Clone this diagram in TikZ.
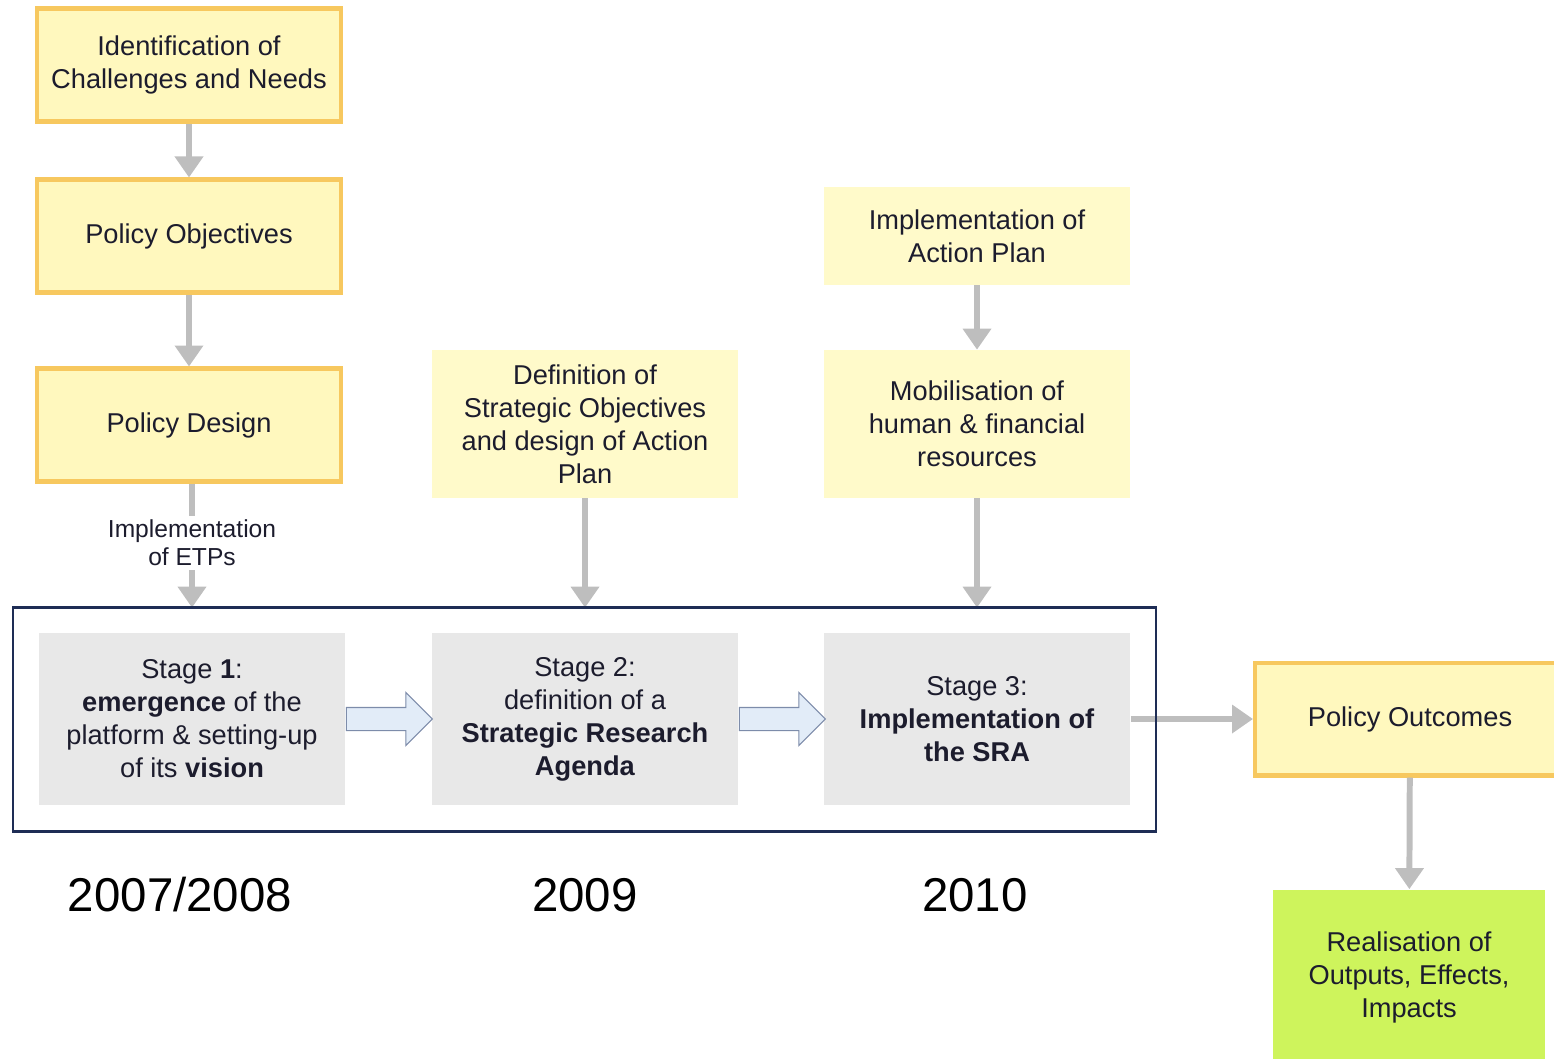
\documentclass[tikz,border=0pt]{standalone}
\usepackage{fontspec}
\setmainfont{Liberation Sans}
\usetikzlibrary{arrows.meta,shapes.arrows,calc}

\definecolor{boxfill}{RGB}{255,248,190}
\definecolor{boxedge}{RGB}{247,200,95}
\definecolor{palefill}{RGB}{255,250,202}
\definecolor{stagefill}{RGB}{232,232,232}
\definecolor{limegreen}{RGB}{206,244,92}
\definecolor{flowgray}{RGB}{190,190,190}
\definecolor{arrowedge}{RGB}{125,140,170}
\definecolor{arrowfill}{RGB}{226,236,248}
\definecolor{framenavy}{RGB}{30,45,85}
\definecolor{inkdark}{RGB}{28,28,45}

\begin{document}
\begin{tikzpicture}[x=0.02cm, y=-0.02cm,
  every node/.style={font=\fontsize{15.5}{18.8}\selectfont, align=center, text=inkdark, inner sep=2pt},
  ybox/.style={draw=boxedge, line width=2.3pt, fill=boxfill, minimum width=6.1cm, minimum height=2.26cm},
  pbox/.style={fill=palefill, minimum width=6.12cm, minimum height=2.96cm},
  sbox/.style={fill=stagefill, minimum width=6.14cm, minimum height=3.46cm},
  flow/.style={draw=flowgray, line width=3.4pt, -{Triangle[length=0.42cm, width=0.55cm]}},
  stagearrow/.style={single arrow, draw=arrowedge, fill=arrowfill, line width=0.6pt, minimum height=1.72cm,
    single arrow head extend=0.3cm, inner xsep=0pt, inner ysep=0.22cm, anchor=tail},
  year/.style={font=\fontsize{27}{30}\selectfont, text=black}]
\useasboundingbox (0,0) rectangle (1554,1058);

% left column
\node[ybox] (ident) at (189,65) {Identification of\\Challenges and Needs};
\node[ybox] (obj) at (189,236) {Policy Objectives};
\node[ybox] (design) at (189,425) {Policy Design};
\node[font=\fontsize{14}{16}\selectfont] (etp) at (192,543) {Implementation\\of ETPs};

% upper boxes
\node[pbox] (defn) at (585,424) {Definition of\\Strategic Objectives\\and design of Action\\Plan};
\node[pbox, minimum height=1.96cm] (impl) at (977,236) {Implementation of\\Action Plan};
\node[pbox] (mob) at (977,424) {Mobilisation of\\human \& financial\\resources};

% stages
\node[minimum width=22.86cm, minimum height=4.46cm] (frame) at (584.5,719.5) {};
\node[sbox] (st1) at (192,719) {Stage \textbf{1}:\\\textbf{emergence} of the\\platform \& setting-up\\of its \textbf{vision}};
\node[sbox] (st2) at (585,719) {Stage 2:\\definition of a\\\textbf{Strategic Research}\\\textbf{Agenda}};
\node[sbox] (st3) at (977,719) {Stage 3:\\\textbf{Implementation of}\\\textbf{the SRA}};
\node[stagearrow] (a12) at (st1.east) {};
\node[stagearrow] (a23) at (st2.east) {};

% right side
\node[ybox, minimum width=6.2cm] (outc) at (1410,719) {Policy Outcomes};
\node[fill=limegreen, minimum width=5.44cm, minimum height=3.5cm] (real) at (1409,977) {Realisation of\\Outputs, Effects,\\Impacts};

% years
\node[year] (y1) at (180,895) {2007/2008};
\node[year] (y2) at (585,895) {2009};
\node[year] (y3) at (975,895) {2010};

\draw[flow] (ident) -- (obj);
\draw[flow] (obj) -- (design);
\draw[draw=flowgray, line width=3.4pt] (design.south -| etp.north) -- (etp.north);
\draw[flow] (etp.south) -- (etp.south |- frame.north);
\draw[flow] (defn) -- (defn.south |- frame.north);
\draw[flow] (impl) -- (mob);
\draw[flow] (mob) -- (mob.south |- frame.north);
\draw[flow] (st3) -- (outc);
\draw[flow] (outc) -- (real);

\draw[framenavy, line width=1.4pt] (frame.north west) rectangle (frame.south east);
\end{tikzpicture}
\end{document}
